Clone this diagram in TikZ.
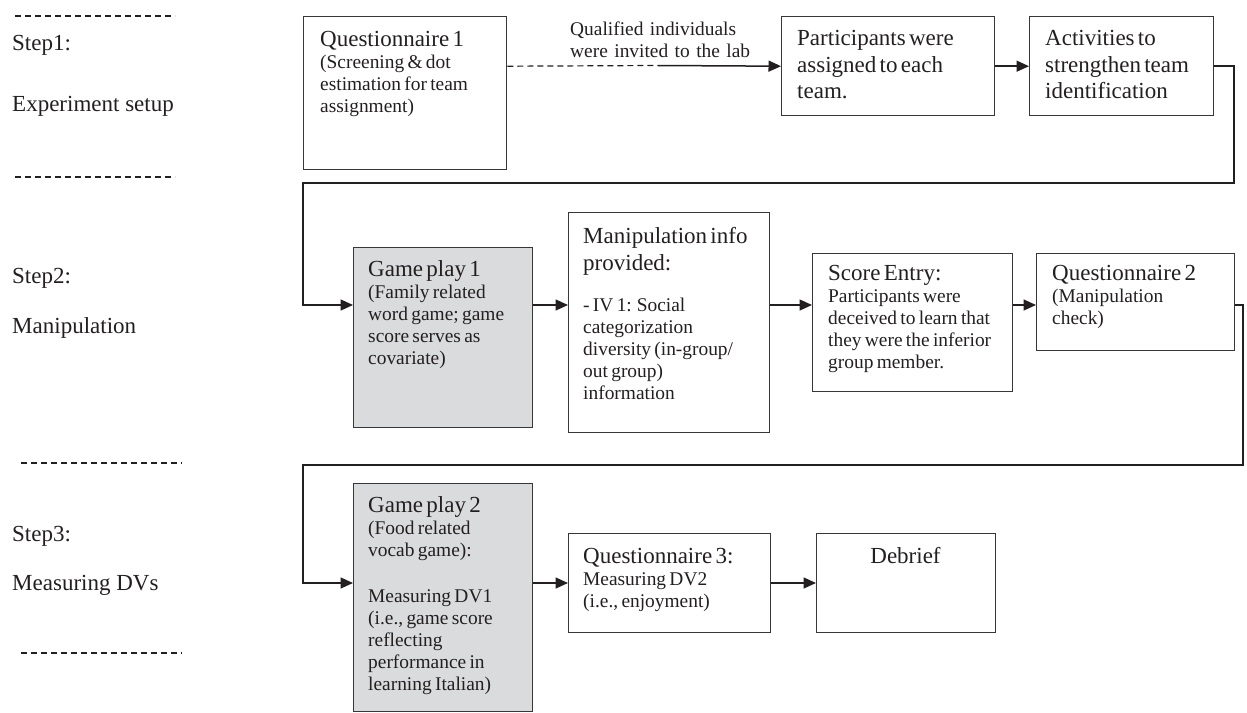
\documentclass[tikz,border=0pt]{standalone}
\usepackage{fontspec}
\setmainfont{Liberation Serif}
\usetikzlibrary{arrows.meta}
\definecolor{boxline}{RGB}{55,55,55}
\definecolor{gpfill}{RGB}{218,219,221}
\definecolor{ink}{RGB}{35,31,32}
\newcommand\Lg{\fontsize{23}{27}\selectfont}
\newcommand\Sm{\fontsize{19.4}{22}\selectfont}
\begin{document}
\begin{tikzpicture}[x=1pt,y=-1pt,
  box/.style={draw=boxline, line width=1.4pt, anchor=north west, inner sep=0pt, rectangle},
  gbox/.style={box, fill=gpfill},
  txt/.style={anchor=base west, inner sep=0pt, text width=240pt, align=left, text=ink,
    execute at begin node=\setlength{\parindent}{0pt}\setlength{\parskip}{0pt}},
  lbl/.style={anchor=base west, inner sep=0pt, font=\Lg, text=ink},
  conn/.style={draw=ink, line width=1.5pt, -{Triangle[length=12.5pt,width=11pt]}},
  dashconn/.style={draw=ink, line width=1.2pt, dash pattern=on 6pt off 4pt},
  sepline/.style={draw=ink, line width=1.1pt, dash pattern=on 6pt off 4pt}]
\useasboundingbox (0,0) rectangle (1247,712);

% separators
\draw[sepline] (15,16) -- (175,16);
\draw[sepline] (15,177) -- (175,177);
\draw[sepline] (21,463) -- (182,463);
\draw[sepline] (21,653) -- (182,653);

% step labels
\node[lbl] (s1) at (12,50.5) {Step1:};
\node[lbl] (s1b) at (12,111.5) {Experiment setup};
\node[lbl] (s2) at (12,283) {Step2:};
\node[lbl] (s2b) at (12,333) {Manipulation};
\node[lbl] (s3) at (12,541) {Step3:};
\node[lbl] (s3b) at (12,590) {Measuring DVs};

% boxes
\node[box, minimum width=203pt, minimum height=153pt] (q1) at (303,16) {};
\node[box, minimum width=213pt, minimum height=99pt] (pa) at (781,16) {};
\node[box, minimum width=184pt, minimum height=99pt] (act) at (1029,16) {};
\node[gbox, minimum width=179pt, minimum height=180pt] (gp1) at (353,247) {};
\node[box, minimum width=201pt, minimum height=220pt] (man) at (568,212) {};
\node[box, minimum width=200pt, minimum height=138pt] (se) at (812,253) {};
\node[box, minimum width=198pt, minimum height=97pt] (q2) at (1036,253) {};
\node[gbox, minimum width=179pt, minimum height=228pt] (gp2) at (353,483) {};
\node[box, minimum width=202pt, minimum height=99pt] (q3) at (568,533) {};
\node[box, minimum width=179pt, minimum height=99pt] (deb) at (816,533) {};

% box texts
\node[txt] (q1t) at (320,46) {{\Lg Questionnaire 1\par}{\Sm (Screening \& dot\\estimation for team\\assignment)\par}};
\node[txt] (pat) at (797,45) {{\Lg Participants were\\assigned to each\\team.\par}};
\node[txt] (actt) at (1045,45) {{\Lg Activities to\\strengthen team\\identification\par}};
\node[txt] (gp1t) at (368,276) {{\Lg Game play 1\par}{\Sm (Family related\\word game; game\\score serves as\\covariate)\par}};
\node[txt] (mant) at (583,243) {{\Lg Manipulation info\\provided:\par}\vspace{19pt}{\Sm - IV 1: Social\\categorization\\diversity (in-group/\\out group)\\information\par}};
\node[txt] (set) at (828,280) {{\Lg Score Entry:\par}{\Sm Participants were\\deceived to learn that\\they were the inferior\\group member.\par}};
\node[txt] (q2t) at (1052,280) {{\Lg Questionnaire 2\par}{\Sm (Manipulation\\check)\par}};
\node[txt] (gp2t) at (368,512) {{\Lg Game play 2\par}{\Sm (Food related\\vocab game):\par\vspace{24pt}Measuring DV1\\(i.e., game score\\reflecting\\performance in\\learning Italian)\par}};
\node[txt] (q3t) at (583,563) {{\Lg Questionnaire 3:\par}{\Sm Measuring DV2\\(i.e., enjoyment)\par}};
\node[anchor=base, inner sep=0pt, font=\Lg, text=ink] (debt) at (905.5,563) {Debrief};

% label on dashed connector
\node[txt, font=\Sm] (qual) at (570,35) {Qualified individuals\\were invited to the lab};

% connector coordinates
\coordinate (dm) at (658,65.5);
\coordinate (r1) at (1234,183);
\coordinate (l1) at (303,183);
\coordinate (row2) at (0,305);
\coordinate (r2) at (1243,465);
\coordinate (l2) at (303,465);
\coordinate (row3) at (0,583);

% row 1
\draw[dashconn] (q1.east |- pa.west) -- (dm);
\draw[conn] (dm) -- (pa.west);
\draw[conn] (pa.east) -- (act.west);
\draw[conn] (act.east) -| (r1) -- (l1) |- (gp1.west |- row2);

% row 2
\draw[conn] (gp1.east |- row2) -- (man.west |- row2);
\draw[conn] (man.east |- row2) -- (se.west |- row2);
\draw[conn] (se.east |- row2) -- (q2.west |- row2);
\draw[conn] (q2.east |- row2) -| (r2) -- (l2) |- (gp2.west |- row3);

% row 3
\draw[conn] (gp2.east |- row3) -- (q3.west |- row3);
\draw[conn] (q3.east |- row3) -- (deb.west |- row3);
\end{tikzpicture}
\end{document}
